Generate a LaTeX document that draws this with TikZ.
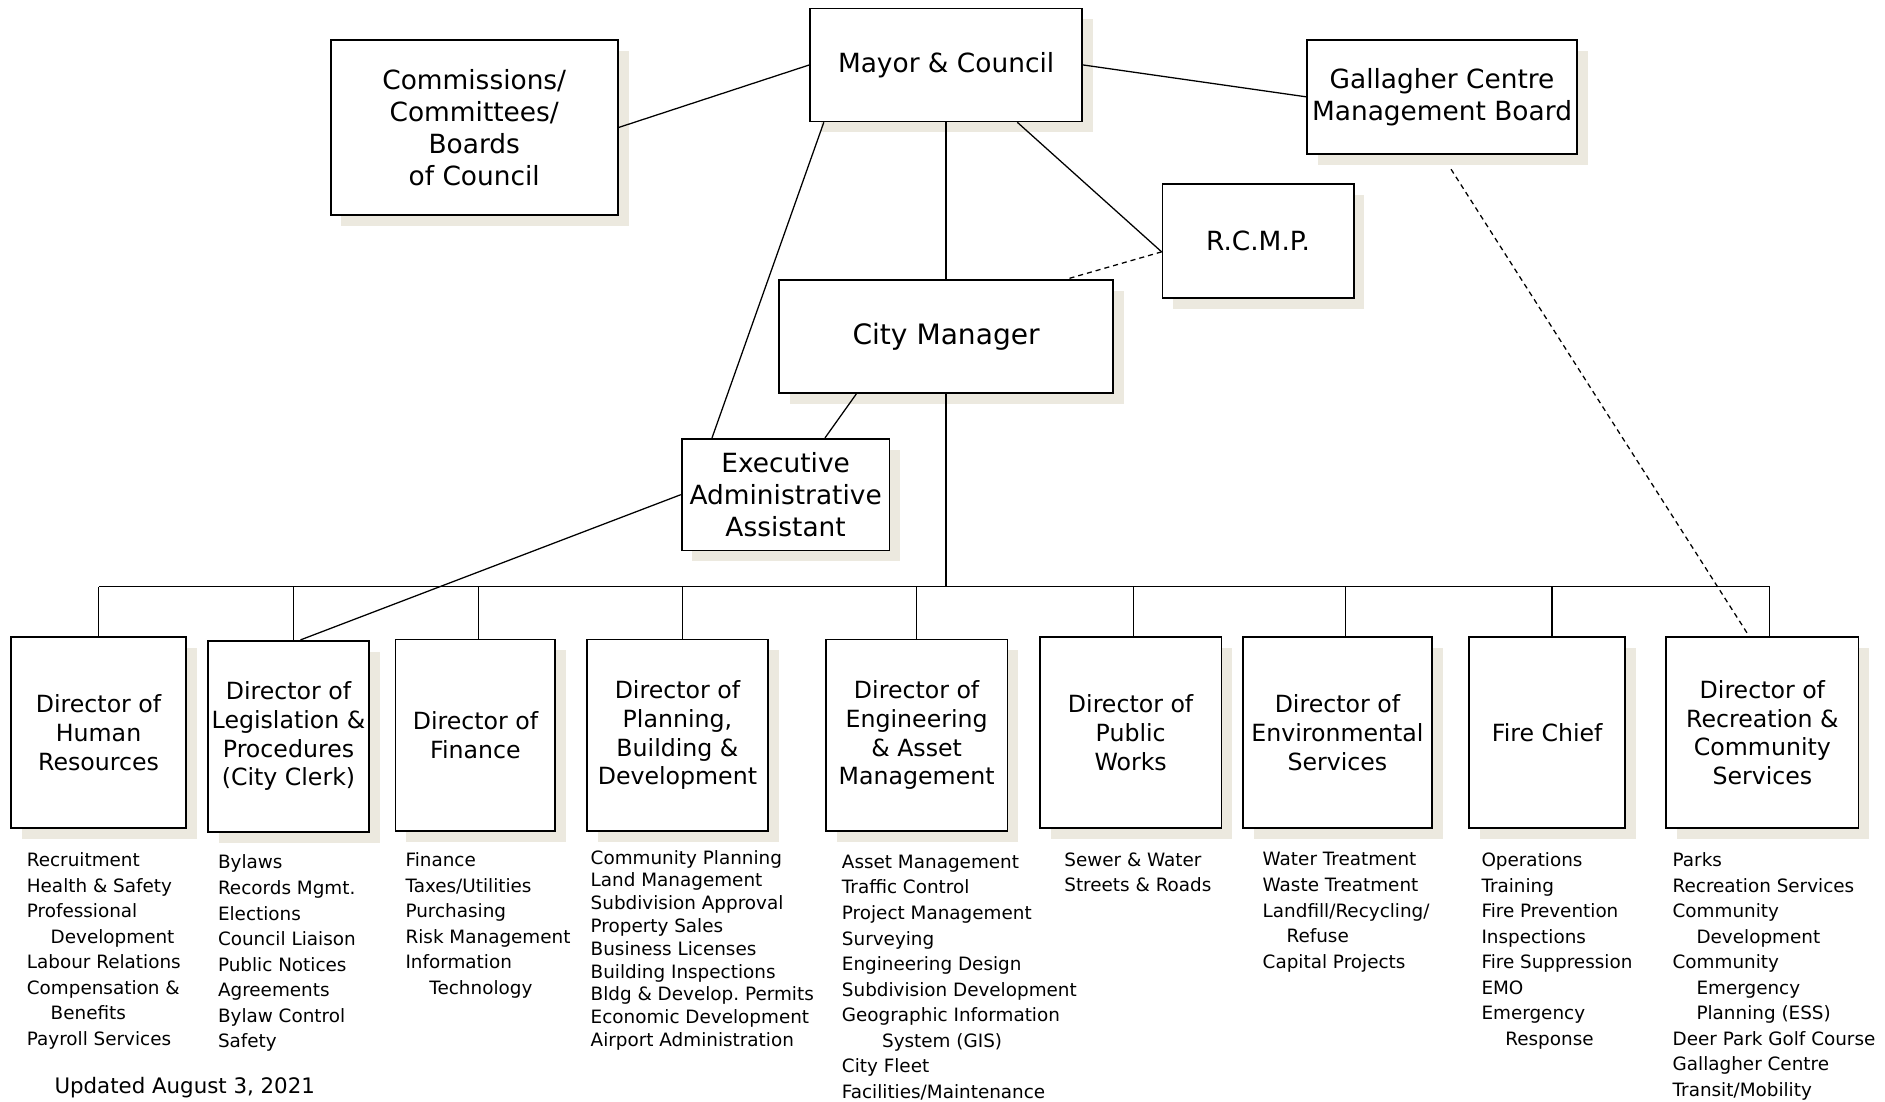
\documentclass[tikz,border=0pt]{standalone}
\usepackage{fontspec}
\setmainfont{DejaVu Sans}
\usetikzlibrary{shadows}
\definecolor{shade}{HTML}{ECE9DF}
\newcommand\indnt{\hspace*{11.3pt}}

\begin{document}
\begin{tikzpicture}[x=0.02cm, y=-0.02cm,
    box/.style={draw, line width=0.85pt, fill=white, align=center, inner sep=0pt,
      drop shadow={shadow xshift=0.18cm, shadow yshift=-0.18cm, fill=shade, opacity=1}},
    top/.style={box, font=\fontsize{12.5}{15.1}\selectfont},
    dir/.style={box, minimum height=3.18cm, font=\fontsize{11.2}{13.6}\selectfont},
    duties/.style={anchor=north west, align=left, inner sep=0pt, font=\fontsize{8.7}{12.1}\selectfont},
    link/.style={line width=0.6pt},
    loose/.style={link, dash pattern=on 2.4pt off 1.9pt}]
    \useasboundingbox (0,0) rectangle (1568,916);

    \node[top, minimum width=4.52cm, minimum height=1.88cm] (MC) at (787,54){Mayor \& Council};
    \node[top, minimum width=4.78cm, minimum height=2.92cm] (CB) at (394.5,106){Commissions/\\Committees/\\Boards\\of Council};
    \node[top, minimum width=4.5cm, minimum height=1.9cm] (GC) at (1199.5,80.5){Gallagher Centre\\Management Board};
    \node[top, minimum width=3.18cm, minimum height=1.9cm] (RCMP) at (1046.5,200.5){R.C.M.P.};
    \node[top, minimum width=5.56cm, minimum height=1.88cm, font=\fontsize{13.3}{16}\selectfont] (CM) at (787,280){City Manager};
    \node[top, minimum width=3.46cm, minimum height=1.86cm] (EAA) at (653.5,411.5){Executive\\Administrative\\Assistant};

    \node[dir, minimum width=2.92cm] (HR) at (82,609.5){Director of\\Human\\Resources};
    \node[dir, minimum width=2.68cm] (LP) at (240,612.5){Director of\\Legislation \&\\Procedures\\(City Clerk)};
    \node[dir, minimum width=2.66cm] (FIN) at (395.5,611.5){Director of\\Finance};
    \node[dir, minimum width=3.02cm] (PBD) at (563.5,611.5){Director of\\Planning,\\Building \&\\Development};
    \node[dir, minimum width=3.02cm] (EAM) at (762.5,611.5){Director of\\Engineering\\\& Asset\\Management};
    \node[dir, minimum width=3.02cm] (PW) at (940.5,609.5){Director of\\Public\\Works};
    \node[dir, minimum width=3.14cm] (ES) at (1112.5,609.5){Director of\\Environmental\\Services};
    \node[dir, minimum width=2.6cm] (FC) at (1287,609.5){Fire Chief};
    \node[dir, minimum width=3.2cm] (RCS) at (1466,609.5){Director of\\Recreation \&\\Community\\Services};

    \node[duties] (HRd) at (22,708.8){Recruitment\\Health \& Safety\\Professional\\\indnt Development\\Labour Relations\\Compensation \&\\\indnt Benefits\\Payroll Services};
    \node[duties] (LPd) at (181,710.8){Bylaws\\Records Mgmt.\\Elections\\Council Liaison\\Public Notices\\Agreements\\Bylaw Control\\Safety};
    \node[duties] (FINd) at (337,708.8){Finance\\Taxes/Utilities\\Purchasing\\Risk Management\\Information\\\indnt Technology};
    \node[duties, font=\fontsize{8.7}{10.8}\selectfont] (PBDd) at (491,706.8){Community Planning\\Land Management\\Subdivision Approval\\Property Sales\\Business Licenses\\Building Inspections\\Bldg \& Develop.\ Permits\\Economic Development\\Airport Administration};
    \node[duties] (EAMd) at (700,710.8){Asset Management\\Traffic Control\\Project Management\\Surveying\\Engineering Design\\Subdivision Development\\Geographic Information\\\hspace*{19pt}System (GIS)\\City Fleet\\Facilities/Maintenance};
    \node[duties] (PWd) at (885,708.8){Sewer \& Water\\Streets \& Roads};
    \node[duties] (ESd) at (1050,708.8){Water Treatment\\Waste Treatment\\Landfill/Recycling/\\\indnt Refuse\\Capital Projects};
    \node[duties] (FCd) at (1232,708.8){Operations\\Training\\Fire Prevention\\Inspections\\Fire Suppression\\EMO\\Emergency\\\indnt Response};
    \node[duties] (RCSd) at (1391,708.8){Parks\\Recreation Services\\Community\\\indnt Development\\Community\\\indnt Emergency\\\indnt Planning (ESS)\\Deer Park Golf Course\\Gallagher Centre\\Transit/Mobility};
    \node[anchor=west, inner sep=0pt, font=\fontsize{10.1}{12}\selectfont] (UPD) at (45,905){Updated August 3, 2021};

    \coordinate (BUS) at (787,488);
    \coordinate (RIN) at ([yshift=-0.18cm]RCMP.west);

    \draw[link] (MC.west)--(CB.east);
    \draw[link] (MC.east)--(GC.west);
    \draw[link] (MC.south)--(CM.north);
    \draw[link] ([xshift=3.46cm]MC.south west)--(RIN);
    \draw[loose] (RIN)--([xshift=2cm]CM.north);
    \draw[link] ([xshift=0.24cm]MC.south west)--([xshift=0.52cm]EAA.north west);
    \draw[link] ([xshift=1.3cm]CM.south west)--([xshift=2.4cm]EAA.north west);
    \draw[link] (EAA.west)--([xshift=0.2cm]LP.north);
    \draw[loose] ([xshift=0.15cm,yshift=-0.24cm]GC.south)--([xshift=-0.22cm]RCS.north);

    \draw[link] (CM.south)--(BUS);
    \draw[link] (HR.north |- BUS)--([xshift=0.12cm]RCS.north |- BUS);
    \draw[link] (HR.north)--(HR.north |- BUS);
    \draw[link] ([xshift=0.08cm]LP.north)--([xshift=0.08cm]LP.north |- BUS);
    \draw[link] ([xshift=0.05cm]FIN.north)--([xshift=0.05cm]FIN.north |- BUS);
    \draw[link] ([xshift=0.09cm]PBD.north)--([xshift=0.09cm]PBD.north |- BUS);
    \draw[link] (EAM.north)--(EAM.north |- BUS);
    \draw[link] ([xshift=0.05cm]PW.north)--([xshift=0.05cm]PW.north |- BUS);
    \draw[link] ([xshift=0.14cm]ES.north)--([xshift=0.14cm]ES.north |- BUS);
    \draw[link] ([xshift=0.08cm]FC.north)--([xshift=0.08cm]FC.north |- BUS);
    \draw[link] ([xshift=0.12cm]RCS.north)--([xshift=0.12cm]RCS.north |- BUS);
  \end{tikzpicture}
\end{document}
